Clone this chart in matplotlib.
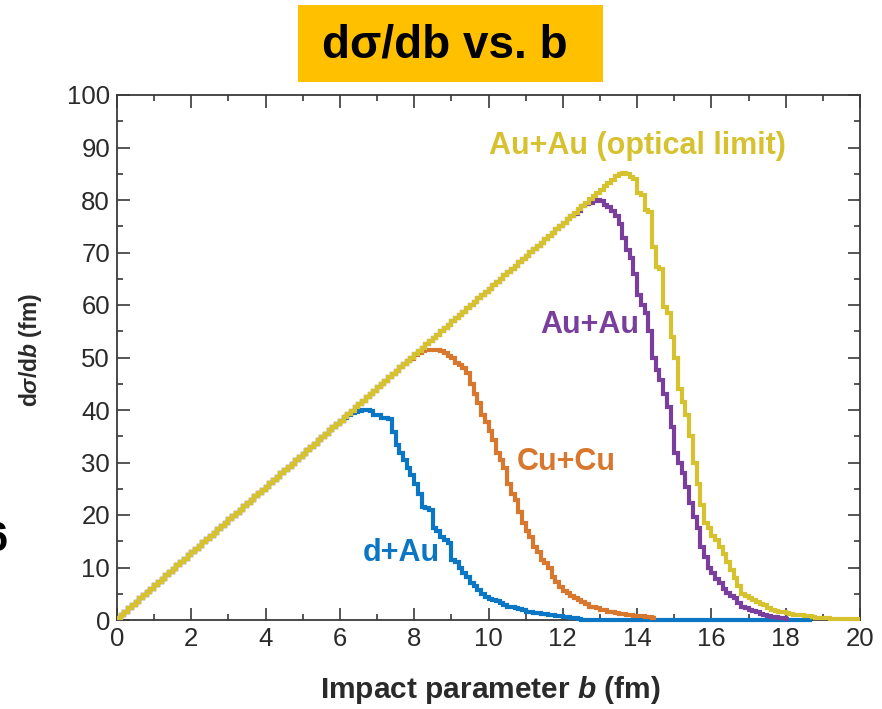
import numpy as np
import matplotlib
matplotlib.use("Agg")
import matplotlib.pyplot as plt
from matplotlib.patches import Rectangle
from matplotlib.ticker import MultipleLocator

plt.rcParams["font.family"] = ["Liberation Sans", "DejaVu Sans"]
plt.rcParams["mathtext.fontset"] = "custom"
plt.rcParams["mathtext.rm"] = "Liberation Sans:bold"
plt.rcParams["mathtext.it"] = "Liberation Sans:italic:bold"
plt.rcParams["mathtext.bf"] = "Liberation Sans:bold"

# histogram bin width in impact parameter (fm)
bin_width = 0.1

# d sigma / db per 0.1 fm bin, starting at b = 0
au_au_optical = [
    0.3, 0.9, 1.6, 2.2, 2.8, 3.5, 4.1, 4.7, 5.3, 6.0,
    6.6, 7.2, 7.9, 8.5, 9.1, 9.7, 10.4, 11.0, 11.6, 12.3,
    12.9, 13.5, 14.1, 14.8, 15.4, 16.0, 16.6, 17.3, 17.9, 18.5,
    19.2, 19.8, 20.4, 21.0, 21.7, 22.3, 22.9, 23.6, 24.2, 24.8,
    25.4, 26.1, 26.7, 27.3, 28.0, 28.6, 29.2, 29.8, 30.5, 31.1,
    31.7, 32.4, 33.0, 33.6, 34.2, 34.9, 35.5, 36.1, 36.8, 37.4,
    38.0, 38.6, 39.3, 39.9, 40.5, 41.2, 41.8, 42.4, 43.0, 43.7,
    44.3, 44.9, 45.6, 46.2, 46.8, 47.4, 48.1, 48.7, 49.3, 49.9,
    50.6, 51.2, 51.8, 52.5, 53.1, 53.7, 54.3, 55.0, 55.6, 56.2,
    56.9, 57.5, 58.1, 58.7, 59.4, 60.0, 60.6, 61.3, 61.9, 62.5,
    63.1, 63.8, 64.4, 65.0, 65.7, 66.3, 66.9, 67.5, 68.2, 68.8,
    69.4, 70.1, 70.7, 71.3, 71.9, 72.6, 73.2, 73.8, 74.5, 75.1,
    75.7, 76.3, 77.0, 77.6, 78.2, 78.9, 79.5, 80.1, 80.7, 81.4,
    82.0, 82.6, 83.2, 83.9, 84.5, 85.0, 85.2, 85.0, 84.3, 84.0,
    81.3, 81.0, 78.1, 77.8, 71.0, 67.2, 66.8, 59.6, 58.5, 54.0,
    50.0, 44.0, 41.5, 39.0, 35.0, 30.0, 26.0, 22.0, 18.5, 17.5,
    16.0, 15.2, 14.0, 12.5, 11.0, 9.5, 8.0, 6.5, 5.0, 4.6,
    4.2, 3.8, 3.4, 3.0, 2.8, 2.3, 2.0, 1.8, 1.6, 1.5,
    1.4, 1.1, 1.0, 1.0, 0.9, 0.8, 0.7, 0.6, 0.4, 0.3,
    0.3, 0.3, 0.2, 0.2, 0.2, 0.2, 0.2, 0.1, 0.1, 0.1,
]

au_au = [
    0.3, 0.9, 1.6, 2.2, 2.8, 3.5, 4.1, 4.7, 5.3, 6.0,
    6.6, 7.2, 7.9, 8.5, 9.1, 9.7, 10.4, 11.0, 11.6, 12.3,
    12.9, 13.5, 14.1, 14.8, 15.4, 16.0, 16.6, 17.3, 17.9, 18.5,
    19.2, 19.8, 20.4, 21.0, 21.7, 22.3, 22.9, 23.6, 24.2, 24.8,
    25.4, 26.1, 26.7, 27.3, 28.0, 28.6, 29.2, 29.8, 30.5, 31.1,
    31.7, 32.4, 33.0, 33.6, 34.2, 34.9, 35.5, 36.1, 36.8, 37.4,
    38.0, 38.6, 39.3, 39.9, 40.5, 41.2, 41.8, 42.4, 43.0, 43.7,
    44.3, 44.9, 45.6, 46.2, 46.8, 47.4, 48.1, 48.7, 49.3, 49.9,
    50.6, 51.2, 51.8, 52.5, 53.1, 53.7, 54.3, 55.0, 55.6, 56.2,
    56.9, 57.5, 58.1, 58.7, 59.4, 60.0, 60.6, 61.3, 61.9, 62.5,
    63.1, 63.8, 64.4, 65.0, 65.7, 66.3, 66.9, 67.5, 68.2, 68.8,
    69.4, 70.1, 70.7, 71.3, 71.9, 72.6, 73.2, 73.8, 74.5, 75.1,
    75.7, 76.3, 77.0, 77.4, 78.0, 78.9, 79.2, 79.5, 79.8, 80.0,
    79.8, 79.0, 78.7, 78.0, 77.0, 75.5, 72.7, 70.5, 69.0, 66.0,
    62.0, 60.0, 58.5, 55.0, 50.0, 47.6, 45.7, 43.0, 40.6, 36.8,
    31.8, 30.0, 28.0, 25.3, 22.3, 19.6, 17.5, 14.0, 12.0, 10.0,
    9.0, 7.8, 7.0, 6.0, 5.1, 4.6, 4.2, 3.3, 2.5, 2.3,
    1.9, 1.8, 1.5, 1.2, 1.0, 0.8, 0.6, 0.5, 0.4, 0.3,
    0.2,
]

cu_cu = [
    0.3, 0.9, 1.6, 2.2, 2.8, 3.5, 4.1, 4.7, 5.3, 6.0,
    6.6, 7.2, 7.9, 8.5, 9.1, 9.7, 10.4, 11.0, 11.6, 12.3,
    12.9, 13.5, 14.1, 14.8, 15.4, 16.0, 16.6, 17.3, 17.9, 18.5,
    19.2, 19.8, 20.4, 21.0, 21.7, 22.3, 22.9, 23.6, 24.2, 24.8,
    25.4, 26.1, 26.7, 27.3, 28.0, 28.6, 29.2, 29.8, 30.5, 31.1,
    31.7, 32.4, 33.0, 33.6, 34.2, 34.9, 35.5, 36.1, 36.8, 37.4,
    38.0, 38.6, 39.3, 39.9, 40.5, 41.2, 41.8, 42.4, 43.0, 43.7,
    44.3, 44.9, 45.6, 46.2, 46.8, 47.4, 48.1, 48.7, 49.3, 49.8,
    50.4, 50.9, 51.2, 51.4, 51.5, 51.5, 51.4, 51.2, 50.8, 50.3,
    49.9, 49.0, 48.6, 48.0, 47.0, 45.0, 43.0, 41.3, 39.0, 37.8,
    36.0, 34.3, 31.8, 30.5, 29.0, 26.0, 24.0, 22.9, 20.6, 18.5,
    17.0, 15.8, 13.9, 13.0, 11.4, 10.8, 10.0, 8.2, 7.3, 6.3,
    5.6, 5.1, 4.6, 4.2, 3.8, 3.4, 3.0, 2.5, 2.4, 2.2,
    2.0, 1.9, 1.6, 1.5, 1.3, 1.2, 1.1, 1.0, 1.0, 0.8,
    0.8, 0.7, 0.6, 0.5, 0.4,
]

d_au = [
    0.3, 0.9, 1.6, 2.2, 2.8, 3.5, 4.1, 4.7, 5.3, 6.0,
    6.6, 7.2, 7.9, 8.5, 9.1, 9.7, 10.4, 11.0, 11.6, 12.3,
    12.9, 13.5, 14.1, 14.8, 15.4, 16.0, 16.6, 17.3, 17.9, 18.5,
    19.2, 19.8, 20.4, 21.0, 21.7, 22.3, 22.9, 23.6, 24.2, 24.8,
    25.4, 26.1, 26.7, 27.3, 28.0, 28.6, 29.2, 29.8, 30.5, 31.1,
    31.7, 32.4, 33.0, 33.6, 34.2, 34.9, 35.5, 36.1, 36.8, 37.4,
    37.9, 38.5, 39.0, 39.4, 39.7, 39.9, 40.0, 40.0, 39.8, 39.0,
    39.0, 38.5, 38.5, 38.3, 35.8, 33.3, 31.8, 30.5, 29.0, 27.6,
    26.0, 24.0, 21.5, 21.3, 21.0, 17.5, 17.0, 15.8, 15.2, 14.7,
    11.4, 11.0, 10.0, 8.9, 8.2, 7.0, 6.4, 5.7, 5.0, 4.4,
    4.0, 3.8, 3.6, 3.2, 2.8, 2.5, 2.4, 2.3, 2.1, 1.9,
    1.6, 1.5, 1.4, 1.3, 1.2, 1.1, 1.0, 0.9, 0.8, 0.7,
    0.6, 0.5, 0.4, 0.3, 0.2,
] + [0.0] * 62

series = [
    (d_au, "#0B76C4", "d+Au", 7.64, 12.8),
    (cu_cu, "#D8772E", "Cu+Cu", 12.08, 30.1),
    (au_au, "#7A3F9D", "Au+Au", 12.73, 56.2),
    (au_au_optical, "#D6C22E", "Au+Au (optical limit)", 14.02, 90.3),
]

fig = plt.figure(figsize=(8.82, 7.09), dpi=100)
ax = fig.add_axes([117 / 882, 1 - 620 / 709, 743 / 882, 525 / 709])

for values, color, label, lx, ly in series:
    edges = np.linspace(0, len(values) * bin_width, len(values) + 1)
    ax.stairs(values, edges, baseline=None, color=color, linewidth=3.0,
              clip_on=False, zorder=3)
    ax.text(lx, ly, label, color=color, fontsize=22, fontweight="bold",
            ha="center", va="center", zorder=4)

ax.set_xlim(0, 20)
ax.set_ylim(0, 100)
ax.xaxis.set_major_locator(MultipleLocator(2))
ax.xaxis.set_minor_locator(MultipleLocator(1))
ax.yaxis.set_major_locator(MultipleLocator(10))
ax.yaxis.set_minor_locator(MultipleLocator(5))

spine_color = "#3a3a3a"
for sp in ax.spines.values():
    sp.set_color(spine_color)
    sp.set_linewidth(1.3)
ax.tick_params(which="both", direction="in", top=True, right=True,
               color=spine_color, width=1.2, labelsize=18.5,
               labelcolor="#2a2a2a")
ax.tick_params(which="major", length=9, pad=5)
ax.tick_params(which="minor", length=4.5)

# axis titles
fig.text(490 / 882, 1 - 690 / 709, r"Impact parameter $b$ (fm)",
         fontsize=21.5, fontweight="bold", color="#2a2a2a",
         ha="center", va="center")
fig.text(30 / 882, 1 - 350 / 709, r"d$\sigma$/d$b$ (fm)",
         fontsize=16.5, fontweight="bold", color="#2a2a2a",
         ha="center", va="center", rotation=90)

# heading on a gold panel
fig.patches.append(Rectangle((298 / 882, 1 - 82 / 709), 305 / 882, 77 / 709,
                             transform=fig.transFigure, facecolor="#FFC000",
                             edgecolor="none", zorder=0))
fig.text(445 / 882, 1 - 45 / 709, "dσ/db vs. b", fontsize=33,
         fontweight="bold", color="black", ha="center", va="center")

# slide text running in from the left edge
fig.text(-15 / 882, 1 - 540 / 709, "6", fontsize=30, fontweight="bold",
         color="black", ha="left", va="center")

fig.savefig("out.png", dpi=100)
